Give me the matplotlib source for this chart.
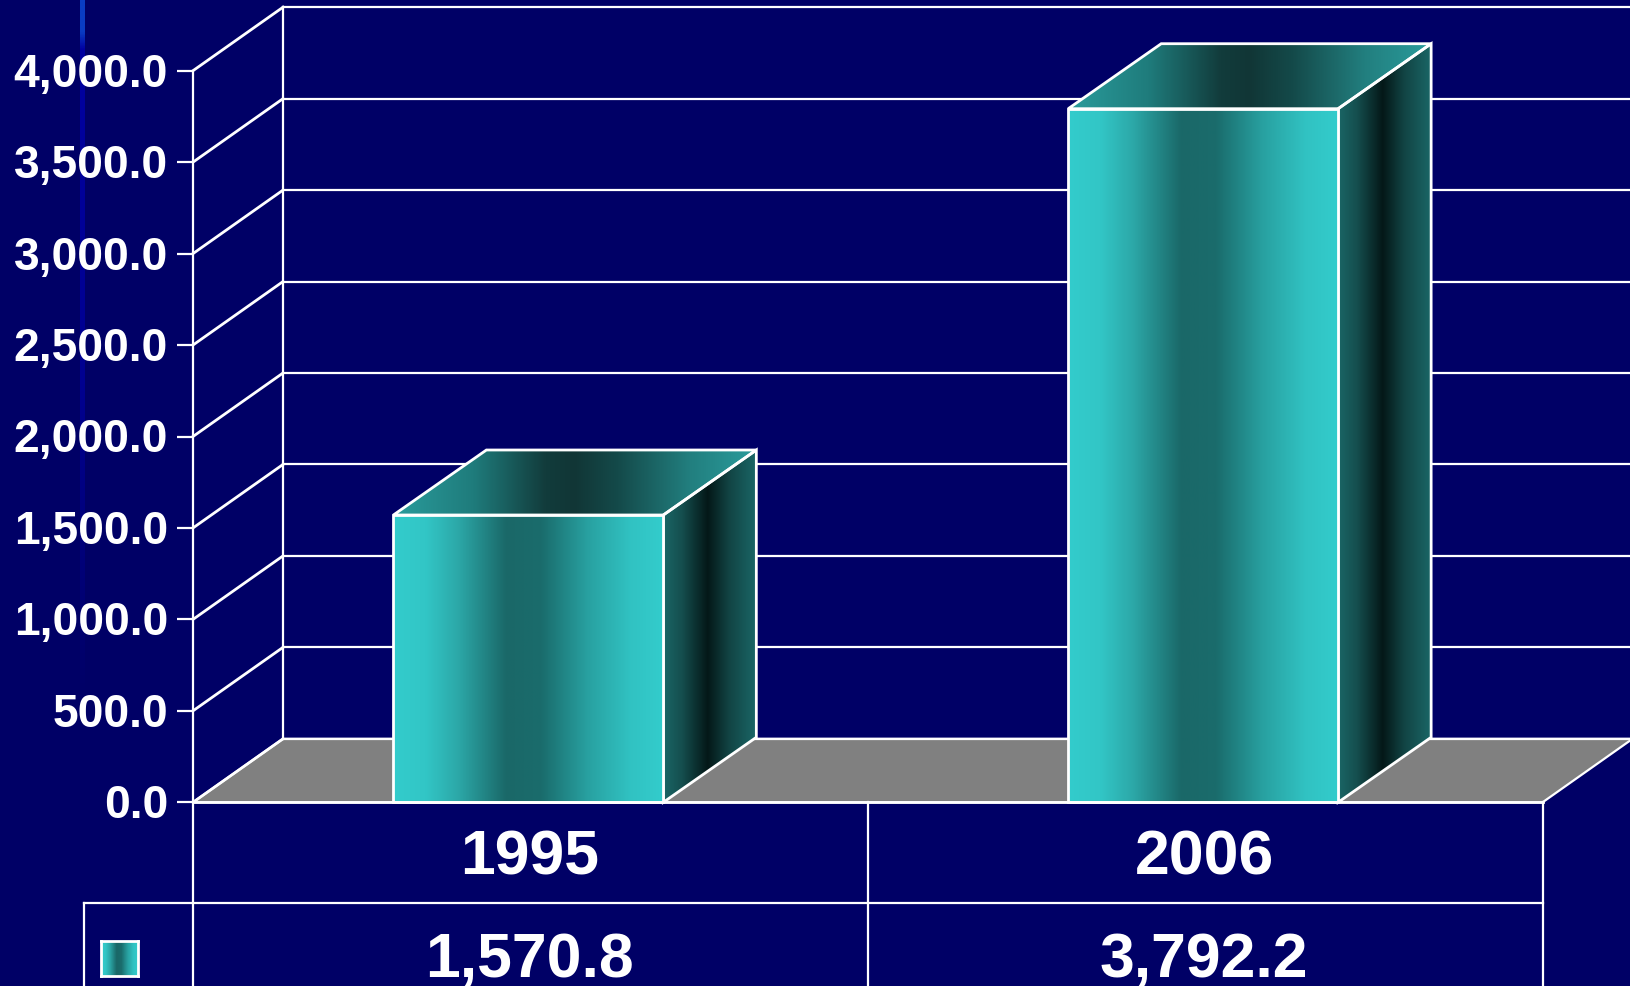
import numpy as np
import matplotlib
matplotlib.use("Agg")
import matplotlib.pyplot as plt
from matplotlib.colors import LinearSegmentedColormap
from matplotlib.patches import Polygon
from matplotlib.transforms import ScaledTranslation

categories = ["1995", "2006"]
values = [1570.8, 3792.2]
value_labels = ["1,570.8", "3,792.2"]
y_ticks = [0, 500, 1000, 1500, 2000, 2500, 3000, 3500, 4000]

W, H = 1631, 987
BG = "#000066"
plt.rcParams["font.family"] = ["Liberation Sans", "DejaVu Sans"]
plt.rcParams["font.weight"] = "bold"

fig = plt.figure(figsize=(W / 100, H / 100), dpi=100, facecolor=BG)

# Faint vertical streak of the slide background
streak = fig.add_axes([80 / W, 1 - 700 / H, 4.5 / W, 700 / H], zorder=0)
streak_cm = LinearSegmentedColormap.from_list(
    "st", [(0, "#0A3CC4"), (0.045, "#0A3CC4"), (0.07, "#0000A0"), (0.55, "#000090"), (1, BG)])
streak.imshow(np.linspace(0, 1, 256)[:, None], cmap=streak_cm, aspect="auto", vmin=0, vmax=1)
streak.axis("off")

X0, X1, Y0, Y4K = 193.0, 1542.6, 803.3, 71.7
ax = fig.add_axes([X0 / W, 1 - Y0 / H, (X1 - X0) / W, (Y0 - Y4K) / H], zorder=1)
ax.patch.set_visible(False)
for s in ax.spines.values():
    s.set_visible(False)
XLIM, YLIM = (0, 2), (0, 4000)
ax.set_xlim(XLIM)
ax.set_ylim(YLIM)
px_x = (X1 - X0) / 2
px_y = (Y0 - Y4K) / 4000
def dx(p): return p / px_x
def dy(p): return p / px_y
def colx(p): return (p - X0) / px_x
def rowy(p): return (Y0 - p) / px_y

LW = 1.6
BAR_LW = 2.0
WHITE = "white"
def ln(xs, ys, z=2, lw=LW):
    ax.plot(xs, ys, color=WHITE, lw=lw, clip_on=False, zorder=z, solid_capstyle="projecting")

D_X, D_Y = dx(90), dy(63.5)
B_X, B_Y = dx(93), dy(65)

# Floor
floor = Polygon([(0, 0), (2, 0), (2 + D_X, D_Y), (D_X, D_Y)], closed=True,
                facecolor="#808080", edgecolor=WHITE, lw=LW, clip_on=False, zorder=1)
ax.add_patch(floor)

# Back wall, grid and oblique lines
for v in y_ticks:
    ln([D_X, 2 + D_X + dx(5)], [v + D_Y, v + D_Y])
    ln([0, D_X], [v, v + D_Y], lw=BAR_LW)
ln([D_X, D_X], [D_Y, 4000 + D_Y])
ln([0, 0], [0, 4000])

# Gradients
front_cm = LinearSegmentedColormap.from_list("f", [
    (0, "#33CCCC"), (0.12, "#32C6C6"), (0.24, "#2CA8A8"), (0.42, "#1A6868"),
    (0.55, "#1A6C6C"), (0.72, "#28A0A0"), (0.88, "#31C2C2"), (1, "#33CCCC")])
side_cm = LinearSegmentedColormap.from_list("s", [
    (0, "#1A6666"), (0.2, "#154F4F"), (0.48, "#041818"), (0.72, "#124545"), (1, "#1A6666")])
top_cm = LinearSegmentedColormap.from_list("t", [
    (0, "#2A9C9C"), (0.22, "#1F7C7C"), (0.42, "#123C3C"), (0.5, "#113636"),
    (0.62, "#144A4A"), (0.82, "#227F7F"), (1, "#2A9C9C")])
grad = np.linspace(0, 1, 256)[None, :]

def gradient_face(poly_pts, cmap, z):
    pts = np.array(poly_pts)
    poly = Polygon(pts, closed=True, transform=ax.transData, facecolor="none", edgecolor="none")
    ax.add_patch(poly)
    im = ax.imshow(grad, cmap=cmap, aspect="auto", vmin=0, vmax=1, zorder=z,
                   extent=[pts[:, 0].min(), pts[:, 0].max(), pts[:, 1].min(), pts[:, 1].max()],
                   interpolation="bilinear")
    im.set_clip_box(fig.bbox)
    im.set_clip_path(poly)
    outline = Polygon(pts, closed=True, facecolor="none", edgecolor=WHITE, lw=BAR_LW,
                      joinstyle="miter", clip_on=False, zorder=z + 0.1)
    ax.add_patch(outline)

positions = np.arange(len(categories)) + 0.497
BAR_W = 0.4
for xc, v in zip(positions, values):
    l, r = xc - BAR_W / 2, xc + BAR_W / 2
    gradient_face([(r, 0), (r + B_X, B_Y), (r + B_X, v + B_Y), (r, v)], side_cm, 3)
    gradient_face([(l, v), (r, v), (r + B_X, v + B_Y), (l + B_X, v + B_Y)], top_cm, 3)
    gradient_face([(l, 0), (r, 0), (r, v), (l, v)], front_cm, 4)

ax.set_xlim(XLIM)
ax.set_ylim(YLIM)

# Value axis
ax.set_yticks(y_ticks, [f"{v:,.1f}" for v in y_ticks], fontsize=33.3, color=WHITE, fontweight="bold")
ax.tick_params(axis="y", length=11.5, width=LW, color=WHITE, pad=6.5)
ax.set_xticks([])
shift = ScaledTranslation(0, 2 / 100, fig.dpi_scale_trans)
for lab in ax.get_yticklabels():
    lab.set_transform(lab.get_transform() + shift)

# Data table
ROW1 = rowy(904)
BOT = rowy(H + 5)
LEFT = colx(84)
ln([0, 2], [0, 0], z=6, lw=BAR_LW)
ln([0, 0], [BOT, 0], z=6)
ln([1, 1], [BOT, 0], z=6)
ln([2, 2], [BOT, 0], z=6)
ln([LEFT, 2], [ROW1, ROW1], z=6)
ln([LEFT, LEFT], [BOT, ROW1], z=6)
ax.set_xlim(XLIM)
ax.set_ylim(YLIM)
for xc, c, t in zip(positions, categories, value_labels):
    ax.text(xc + dx(1), rowy(852), c, ha="center", va="center_baseline", fontsize=45,
            color=WHITE, fontweight="bold", clip_on=False)
    ax.text(xc + dx(1), rowy(954), t, ha="center", va="center_baseline", fontsize=45,
            color=WHITE, fontweight="bold", clip_on=False)

# Legend key
key = fig.add_axes([101 / W, 1 - 977 / H, 37 / W, 35 / H], zorder=2)
key.imshow(grad, cmap=front_cm, aspect="auto", vmin=0, vmax=1)
key.set_xticks([]); key.set_yticks([])
for s in key.spines.values():
    s.set_color(WHITE); s.set_linewidth(2)

fig.savefig("out.png", dpi=100, facecolor=BG)
